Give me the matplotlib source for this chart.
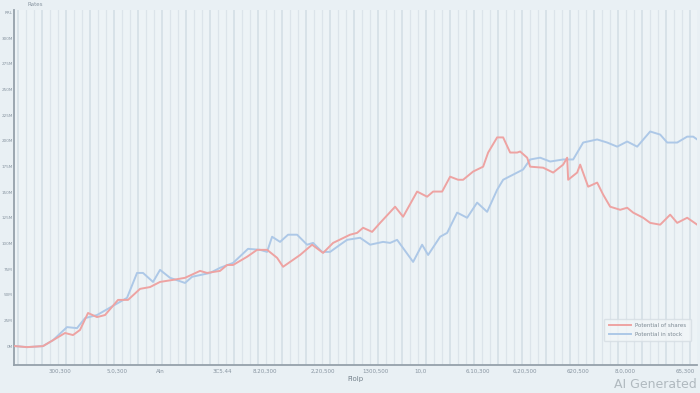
import matplotlib
matplotlib.use("Agg")
import matplotlib.pyplot as plt
import numpy as np

# ---- data ----
red_x = [1, 13, 29, 39, 51, 59, 66, 74, 83, 91, 104, 114, 126, 136, 146, 159, 171, 186, 193, 206,
         213, 219, 233, 243, 253, 263, 269, 276, 286, 298, 309, 319, 336, 343, 349, 358, 366, 381,
         389, 403, 413, 419, 428, 436, 444, 449, 459, 469, 474, 483, 489, 496, 503, 506, 513, 516,
         529, 539, 549, 553, 554, 563, 566, 574, 583, 589, 596, 606, 613, 619, 629, 636, 646, 656,
         663, 673, 683]
red_y = [0.0, -0.04, 0.0, 0.23, 0.51, 0.43, 0.63, 1.29, 1.13, 1.21, 1.80, 1.80, 2.23, 2.30, 2.50,
         2.58, 2.66, 2.93, 2.85, 2.93, 3.16, 3.16, 3.48, 3.75, 3.75, 3.44, 3.09, 3.28, 3.55, 3.95,
         3.63, 4.02, 4.34, 4.41, 4.61, 4.45, 4.80, 5.43, 5.04, 6.02, 5.82, 6.02, 6.02, 6.60, 6.48,
         6.48, 6.80, 6.99, 7.54, 8.13, 8.13, 7.54, 7.54, 7.58, 7.34, 6.99, 6.95, 6.76, 7.07, 7.34,
         6.48, 6.76, 7.07, 6.21, 6.37, 5.90, 5.43, 5.31, 5.39, 5.20, 5.00, 4.80, 4.73, 5.12, 4.80,
         5.00, 4.73]

blue_x = [1, 13, 29, 39, 53, 63, 71, 83, 113, 123, 129, 139, 146, 156, 171, 178, 196, 206, 219,
          234, 246, 253, 258, 266, 274, 283, 293, 299, 308, 316, 326, 333, 346, 356, 369, 376, 383,
          399, 408, 414, 426, 433, 443, 453, 463, 473, 483, 489, 499, 509, 516, 526, 536, 549, 559,
          569, 583, 593, 603, 613, 623, 636, 646, 653, 663, 673, 679, 683]
blue_y = [0.0, -0.04, 0.0, 0.23, 0.74, 0.70, 1.09, 1.21, 1.88, 2.85, 2.85, 2.50, 2.97, 2.66, 2.46,
          2.70, 2.85, 3.05, 3.24, 3.79, 3.75, 3.67, 4.26, 4.06, 4.34, 4.34, 3.95, 4.02, 3.67, 3.67,
          3.95, 4.14, 4.22, 3.95, 4.06, 4.02, 4.14, 3.28, 3.95, 3.55, 4.26, 4.41, 5.20, 5.00, 5.59,
          5.23, 6.09, 6.48, 6.68, 6.88, 7.27, 7.34, 7.19, 7.27, 7.27, 7.93, 8.05, 7.93, 7.77, 7.97,
          7.77, 8.36, 8.24, 7.93, 7.93, 8.16, 8.16, 8.05]

series_names = ["Potential of shares", "Potential in stock"]

y_ticks = list(range(0, 14))
y_labels = ["0M", "25M", "50M", "75M", "100M", "125M", "150M", "175M",
            "200M", "225M", "250M", "275M", "300M", "RRL"]

x_ticks = [46, 103, 146, 208, 251, 309, 361, 406, 464, 511, 564, 611, 671]
x_labels = ["300,300", "5.0,300", "Aln", "3C5.44", "8.20,300", "2,20,500", "1300,500",
            "10,0", "6.10,300", "6,20,500", "620,500", "8.0,000", "65,300"]

# ---- figure ----
bg = "#e9f0f4"
fig = plt.figure(figsize=(7, 3.93), dpi=100, facecolor=bg)
ax = fig.add_axes([0.02, 0.071, 0.976, 0.904])
ax.set_facecolor("#edf3f6")

# dense vertical grid
grid_x = np.arange(4, 683, 8)
for i, gx in enumerate(grid_x):
    strong = (i % 3 == 0)
    ax.axvline(gx, color="#d3dde4", lw=1.3 if strong else 0.9, alpha=0.85 if strong else 0.65, zorder=0)

ax.plot(red_x, red_y, color="#eea3a2", lw=1.4, label=series_names[0], zorder=3)
ax.plot(blue_x, blue_y, color="#adc8e7", lw=1.4, label=series_names[1], zorder=2)

ax.set_xlim(0, 683)
ax.set_ylim(-0.74, 13.1)
ax.set_yticks(y_ticks)
ax.set_yticklabels(y_labels, fontsize=3, color="#8794a0")
ax.set_xticks(x_ticks)
ax.set_xticklabels(x_labels, fontsize=4, color="#8794a0")
ax.tick_params(axis="both", length=0, pad=3)
ax.tick_params(axis="y", pad=1)

for s in ["top", "right"]:
    ax.spines[s].set_visible(False)
for s in ["left", "bottom"]:
    ax.spines[s].set_color("#95a1aa")
    ax.spines[s].set_linewidth(1.3)

ax.set_xlabel("Fiolp", fontsize=5, color="#75828c", labelpad=1)
fig.text(0.04, 0.995, "Rates", fontsize=4, color="#8794a0", va="top")

leg = ax.legend(loc="lower right", bbox_to_anchor=(0.995, 0.06), fontsize=4,
                frameon=True, facecolor="#f2f6f8", edgecolor="#d5dde3",
                handlelength=4, borderpad=0.8, labelspacing=0.6)
for t in leg.get_texts():
    t.set_color("#7d8a94")

fig.text(0.995, 0.022, "AI Generated", fontsize=9, color="#b0b9bf", ha="right", va="center")

fig.savefig("out.png", dpi=100, facecolor=bg)
